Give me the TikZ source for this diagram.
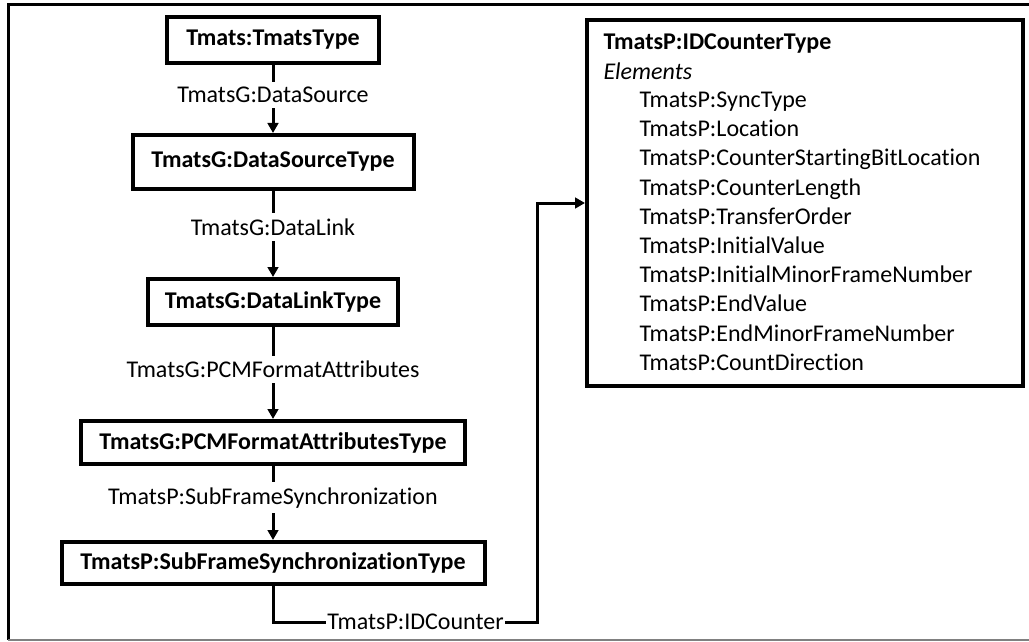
\documentclass[tikz,border=0pt]{standalone}
\usepackage{fontspec}
\setmainfont{Carlito}[Ligatures={NoCommon}]
\usepackage{tikz}
\usetikzlibrary{arrows.meta}

\begin{document}
\begin{tikzpicture}[x=0.75pt,y=-0.75pt,line width=2.25pt,font=\fontsize{18}{22}\selectfont]
\tikzstyle{typ}=[draw,line width=3pt,font=\fontsize{18}{22}\selectfont\bfseries,inner sep=0pt];
\tikzstyle{lbl}=[fill=white,inner xsep=1pt,inner ysep=4pt];
\tikzstyle{dir}=[-{Triangle[length=7.5pt,width=8pt]}];
\tikzstyle{item}=[anchor=base west,inner sep=0pt];

\useasboundingbox (0,0) rectangle (1029,642);
\draw [line width=2.25pt] (1029,5) -- (8,5) -- (8,640);
\draw [gray,line width=1pt] (8,640) -- (1029,640);

\node [typ,minimum width=159pt,minimum height=34.5pt] (b1) at (273,40) {Tmats:TmatsType};
\node [typ,minimum width=210.75pt,minimum height=40.5pt] (b2) at (273,162) {TmatsG:DataSourceType};
\node [typ,minimum width=187.5pt,minimum height=34.5pt] (b3) at (273,302) {TmatsG:DataLinkType};
\node [typ,minimum width=288pt,minimum height=32.25pt] (b4) at (273,442.5) {TmatsG:PCMFormatAttributesType};
\node [typ,minimum width=317.25pt,minimum height=31.5pt] (b5) at (273,563) {TmatsP:SubFrameSynchronizationType};
\node [typ,minimum width=327pt,minimum height=274.5pt] (idc) at (805,203) {};

\node [item,font=\fontsize{18}{22}\selectfont\bfseries] (idt) at (602,50) {TmatsP:IDCounterType};
\node [item,font=\fontsize{18}{22}\selectfont\itshape] (ele) at (602,79.5) {Elements};
\foreach \t [count=\i] in {SyncType,Location,CounterStartingBitLocation,CounterLength,TransferOrder,InitialValue,InitialMinorFrameNumber,EndValue,EndMinorFrameNumber,CountDirection}
  \node [item] (e\i) at (638,{107.5+29.2*(\i-1)}) {TmatsP:\t};

\coordinate (bend) at (537,622);
\draw [dir] (b1) edge node[lbl,pos=0.44] {TmatsG:DataSource} (b2);
\draw [dir] (b2) edge node[lbl,pos=0.42] {TmatsG:DataLink} (b3);
\draw [dir] (b3) edge node[lbl,pos=0.46] {TmatsG:PCMFormatAttributes} (b4);
\draw [dir] (b4) edge node[lbl,pos=0.43] {TmatsP:SubFrameSynchronization} (b5);
\draw [dir] (b5.south) |- node[lbl,pos=0.77] {TmatsP:IDCounter} (bend) |- (idc.west);
\end{tikzpicture}
\end{document}
